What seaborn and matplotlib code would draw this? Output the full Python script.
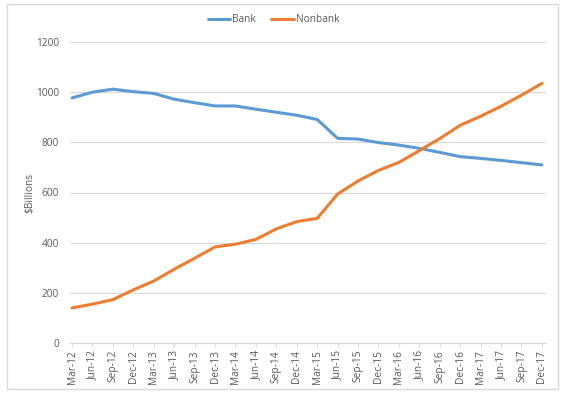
import matplotlib
matplotlib.use("Agg")
import matplotlib.pyplot as plt
import seaborn as sns
import pandas as pd
from matplotlib.patches import Rectangle

# quarterly data, $ billions
quarters = ["Mar-12", "Jun-12", "Sep-12", "Dec-12", "Mar-13", "Jun-13", "Sep-13", "Dec-13",
            "Mar-14", "Jun-14", "Sep-14", "Dec-14", "Mar-15", "Jun-15", "Sep-15", "Dec-15",
            "Mar-16", "Jun-16", "Sep-16", "Dec-16", "Mar-17", "Jun-17", "Sep-17", "Dec-17"]
bank = [977, 1000, 1012, 1002, 995, 972, 958, 945, 945, 932, 920, 908,
        891, 816, 813, 799, 789, 776, 760, 743, 736, 728, 719, 710]
nonbank = [140, 155, 173, 212, 247, 294, 338, 383, 394, 413, 455, 484,
           497, 594, 646, 688, 720, 767, 815, 868, 904, 944, 988, 1035]

df = pd.DataFrame({"pos": list(range(len(quarters))) * 2,
                   "value": bank + nonbank,
                   "series": ["Bank"] * len(bank) + ["Nonbank"] * len(nonbank)})

sns.set_style("white")
plt.rcParams["font.family"] = ["Open Sans", "DejaVu Sans"]

fig = plt.figure(figsize=(5.64, 3.97), dpi=100)
ax = fig.add_axes([70 / 564, 1 - 343 / 397, 476 / 564, 301 / 397])

sns.lineplot(data=df, x="pos", y="value", hue="series",
             palette={"Bank": "#5b9bd5", "Nonbank": "#ed7d31"},
             linewidth=2.2, ax=ax, legend=False)

fs = 7.3
ax.set_ylim(0, 1200)
ax.set_yticks(range(0, 1201, 200))
ax.set_xlim(-0.1, len(quarters) - 1 + 0.2)
ax.set_xticks(range(len(quarters)))
ax.set_xticklabels(quarters, rotation=90, fontsize=fs, color="#595959")
ax.tick_params(axis="y", labelsize=fs, labelcolor="#595959", length=0, pad=8)
ax.tick_params(axis="x", length=3, color="#d9d9d9", pad=2, direction="out", bottom=True)
ax.grid(axis="y", color="#d9d9d9", linewidth=0.8)
ax.grid(axis="x", visible=False)
for s in ["top", "right", "left"]:
    ax.spines[s].set_visible(False)
ax.spines["bottom"].set_color("#d9d9d9")
ax.set_xlabel("")
ax.set_ylabel("$Billions", fontsize=fs, color="#595959", labelpad=0)

# legend
handles = [plt.Line2D([], [], color="#5b9bd5", lw=2.2),
           plt.Line2D([], [], color="#ed7d31", lw=2.2)]
fig.legend(handles, ["Bank", "Nonbank"], loc="center", bbox_to_anchor=(0.485, 1 - 20 / 397),
           ncol=2, frameon=False, fontsize=fs, handlelength=2.2, handletextpad=0.2,
           columnspacing=1.5, labelcolor="#595959")

# outer chart border
fig.patches.append(Rectangle((7 / 564, 1 - 389 / 397), 551 / 564, 385 / 397,
                             transform=fig.transFigure, fill=False,
                             edgecolor="#d9d9d9", linewidth=1))

fig.savefig("out.png", dpi=100)
